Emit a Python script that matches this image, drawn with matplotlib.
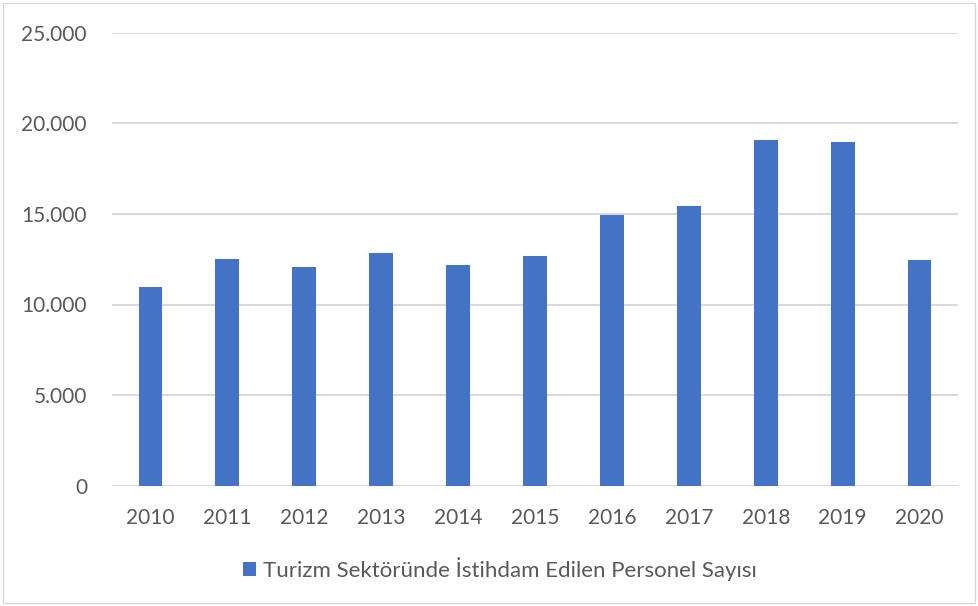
import matplotlib.pyplot as plt
from matplotlib.patches import Rectangle
from matplotlib.ticker import FuncFormatter

# Turizm sektöründe istihdam edilen personel sayısı (2010-2020)
yillar = ['2010', '2011', '2012', '2013', '2014', '2015',
          '2016', '2017', '2018', '2019', '2020']
personel = [10970, 12510, 12060, 12830, 12180, 12700,
            14960, 15460, 19090, 19000, 12460]
seri_adi = 'Turizm Sektöründe İstihdam Edilen Personel Sayısı'

plt.rcParams['font.family'] = ['Lato', 'DejaVu Sans']

fig = plt.figure(figsize=(9.79, 6.06), dpi=100)
ax = fig.add_axes([112 / 979, 120.5 / 606, 846 / 979, 452.5 / 606])

ax.bar(yillar, personel, width=0.31, color='#4472C4', label=seri_adi, zorder=3)

ax.set_ylim(0, 25000)
ax.set_xlim(-0.5, len(yillar) - 0.5)
ax.set_yticks(range(0, 25001, 5000))
ax.yaxis.set_major_formatter(FuncFormatter(lambda v, p: f'{int(v):,}'.replace(',', '.')))
ax.grid(axis='y', color='#d9d9d9', linewidth=1.5, zorder=0)

for s in ax.spines.values():
    s.set_visible(False)
ax.tick_params(axis='both', length=0, labelsize=15, colors='#595959')
ax.tick_params(axis='y', pad=18)
ax.tick_params(axis='x', pad=16)

fig.legend(loc='center', bbox_to_anchor=(500 / 979, 1 - 569 / 606), frameon=False,
           fontsize=16, labelcolor='#595959', handlelength=0.6,
           handleheight=0.6, handletextpad=0.3)

# çerçeve
fig.patches.append(Rectangle((3 / 979, 3 / 606), 972 / 979, 600 / 606,
                             transform=fig.transFigure, fill=False,
                             edgecolor='#d9d9d9', linewidth=1))

fig.savefig('out.png', dpi=100)
